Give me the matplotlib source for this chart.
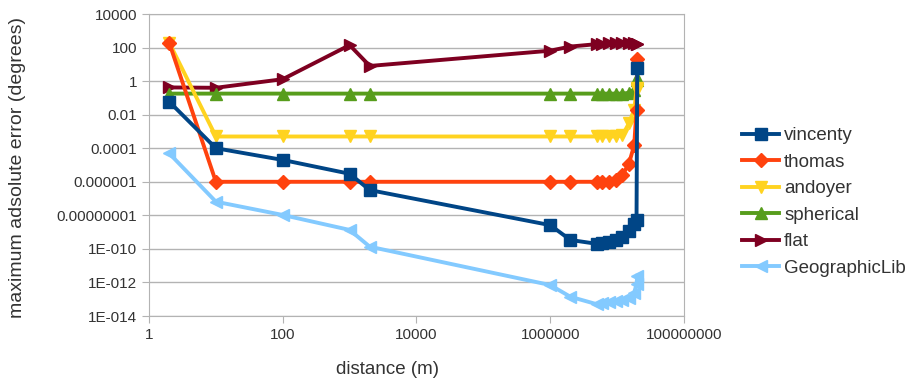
import numpy as np
import matplotlib
matplotlib.use('Agg')
import matplotlib.pyplot as plt
from matplotlib.ticker import FixedLocator, FixedFormatter, NullLocator

plt.rcParams['font.family'] = ['Liberation Sans', 'DejaVu Sans']

# distances (m)
distance = [2, 10, 100, 1000, 2000, 1e6, 2e6, 5e6, 6e6, 7.5e6, 9.5e6,
            1.2e7, 1.5e7, 1.8e7, 1.95e7, 2e7]

vincenty = [0.06, 1e-4, 2e-5, 3e-6, 3.2e-7, 2.6e-9, 3.4e-10, 2e-10, 2.2e-10,
            2.7e-10, 3.4e-10, 5.4e-10, 1.1e-9, 3e-9, 5e-9, 6]
thomas = [200, 1e-6, 1e-6, 1e-6, 1e-6, 1e-6, 1e-6, 1e-6, 1e-6, 1e-6,
          1.2e-6, 2.5e-6, 1.2e-5, 1.5e-4, 0.02, 20]
andoyer = [200, 5e-4, 5e-4, 5e-4, 5e-4, 5e-4, 5e-4, 5e-4, 5e-4, 5e-4,
           5e-4, 6e-4, 3e-3, 0.02, 0.3, 0.4]
spherical = [0.18, 0.18, 0.18, 0.18, 0.18, 0.18, 0.18, 0.18, 0.18, 0.18,
             0.18, 0.18, 0.2, 0.3, 1.2, 1.6]
flat = [0.42, 0.4, 1.3, 140, 8, 65, 115, 160, 170, 175, 180, 180, 180,
        175, 170, 160]
geographiclib = [5e-5, 6.5e-8, 1.05e-8, 1.35e-9, 1.35e-10, 7e-13, 1.4e-13,
                 5e-14, 6e-14, 7e-14, 8e-14, 9e-14, 1.2e-13, 2.5e-13, 8e-13,
                 2.5e-12]

series_names = ['vincenty', 'thomas', 'andoyer', 'spherical', 'flat', 'GeographicLib']
series_vals = [vincenty, thomas, andoyer, spherical, flat, geographiclib]
colors = ['#004586', '#ff420e', '#ffd320', '#579d1c', '#7e0021', '#83caff']
markers = ['s', 'D', 'v', '^', '>', '<']
msizes = [9, 7, 9, 9, 9, 9]

ytick_vals = [1e4, 1e2, 1, 1e-2, 1e-4, 1e-6, 1e-8, 1e-10, 1e-12, 1e-14]
ytick_labels = ['10000', '100', '1', '0.01', '0.0001', '0.000001',
                '0.00000001', '1E-010', '1E-012', '1E-014']
xtick_vals = [1, 1e2, 1e4, 1e6, 1e8]
xtick_labels = ['1', '100', '10000', '1000000', '100000000']

fig = plt.figure(figsize=(9.12, 3.8), dpi=100)
ax = fig.add_axes([149 / 912, 1 - 316 / 380, (684 - 149) / 912, (316 - 14) / 380])

# first series drawn on top, like the original
for i, (name, vals, c, m, ms) in enumerate(zip(series_names, series_vals, colors, markers, msizes)):
    ax.plot(distance, vals, color=c, marker=m, markersize=ms, lw=2.8,
            markeredgecolor=c, label=name, zorder=10 - i)

ax.set_xscale('log')
ax.set_yscale('log')
ax.set_xlim(1, 1e8)
ax.set_ylim(1e-14, 1e4)

ax.yaxis.set_major_locator(FixedLocator(ytick_vals))
ax.yaxis.set_major_formatter(FixedFormatter(ytick_labels))
ax.yaxis.set_minor_locator(NullLocator())
ax.xaxis.set_major_locator(FixedLocator(xtick_vals))
ax.xaxis.set_major_formatter(FixedFormatter(xtick_labels))
ax.xaxis.set_minor_locator(NullLocator())

gridc = '#b3b3b3'
ax.grid(axis='y', color=gridc, lw=1)
ax.set_axisbelow(True)
for s in ax.spines.values():
    s.set_color(gridc)
ax.tick_params(axis='both', colors=gridc, length=5, labelcolor='#333333',
               labelsize=11)

fig.text(18 / 912, 1 - 168 / 380, 'maximum adsolute error (degrees)',
         rotation=90, ha='center', va='center', fontsize=14, color='#333333')
fig.text(388 / 912, 1 - 370 / 380, 'distance (m)', ha='center', va='center',
         fontsize=13.5, color='#333333')

leg = fig.legend(loc='center left', bbox_to_anchor=(742 / 912, 1 - 202 / 380),
                 frameon=False, fontsize=13.5, handlelength=2.0, handletextpad=0.25,
                 labelspacing=0.5, borderaxespad=0, borderpad=0)
for t in leg.get_texts():
    t.set_color('#333333')

fig.savefig('out.png', dpi=100)
